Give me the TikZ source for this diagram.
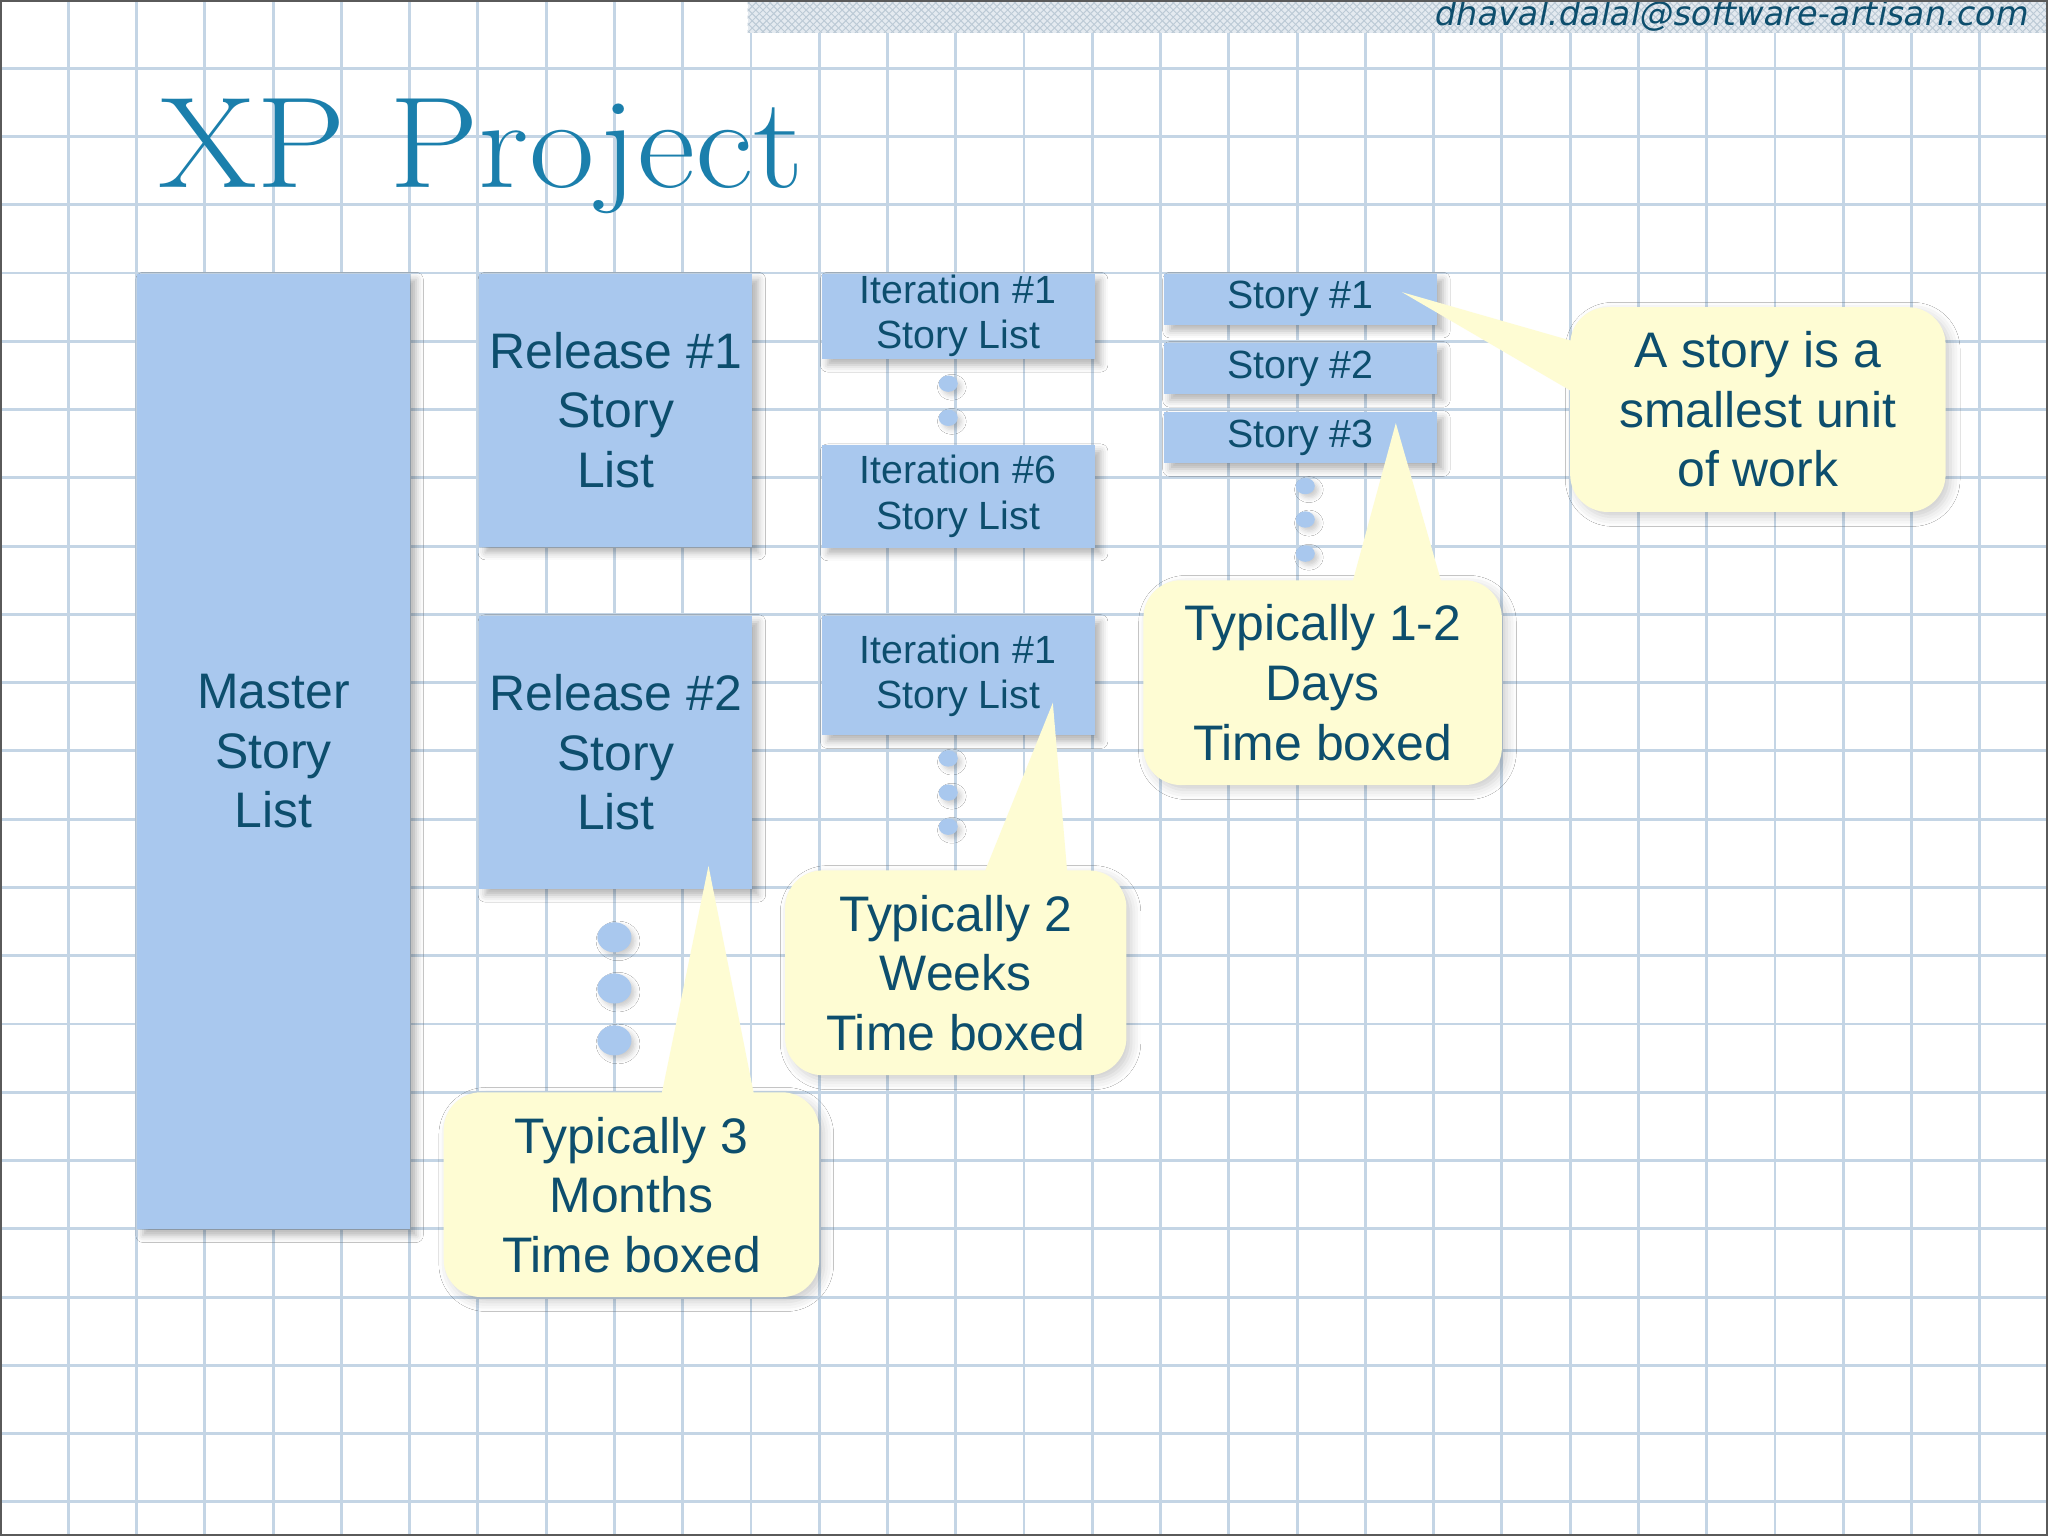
\documentclass[tikz,border=0pt]{standalone}
\usepackage{fontspec}
\setsansfont{Liberation Sans}
\newfontfamily\mailfont[FakeSlant=0.2]{DejaVu Sans}
\usepackage{xcolor}
\usepackage{tikz}
\usetikzlibrary{
  calc,
  patterns,
  positioning,
  shadows.blur
}
\definecolor{gridBlue}{HTML}{C4D5E5}
\definecolor{boxBlue}{HTML}{A9C8EE}
\definecolor{inkTeal}{HTML}{0D4E6D}
\definecolor{titleTeal}{HTML}{1B7FAC}
\definecolor{noteYellow}{HTML}{FEFCD3}
\definecolor{frameGray}{HTML}{5A5A5A}
\definecolor{bandGray}{HTML}{E4EAF0}
\definecolor{bandLine}{HTML}{BCCAD6}

\begin{document}
\begin{tikzpicture}[
  font=\sffamily,
  gridline/.style={draw=gridBlue, line width=1.2pt},
  bigtext/.style={font=\sffamily\fontsize{20.8}{24.8}\selectfont},
  smalltext/.style={font=\sffamily\fontsize{16.4}{18.8}\selectfont},
  listbox/.style={
    fill=boxBlue,
    text=inkTeal,
    align=center,
    inner sep=0pt,
    minimum width=4cm,
    blur shadow={shadow xshift=2.5pt, shadow yshift=-2.5pt,
      shadow blur radius=3pt, shadow opacity=30}
  },
  callout/.style={
    bigtext,
    fill=noteYellow,
    text=inkTeal,
    align=center,
    inner sep=0pt,
    minimum height=3cm,
    rounded corners=0.55cm,
    blur shadow={shadow xshift=2pt, shadow yshift=-2pt,
      shadow blur radius=4pt, shadow opacity=20}
  },
  tail/.style={fill=noteYellow},
  dotfill/.style={fill=boxBlue,
    blur shadow={shadow xshift=1.5pt, shadow yshift=-1.5pt,
      shadow blur radius=2pt, shadow opacity=20}}
]
\useasboundingbox (0,0) rectangle (30,-22.5);
\fill[white] (0,0) rectangle (30,-22.5);

% squared paper
\foreach \x in {1,...,29}
  \draw[gridline] (\x,0) -- (\x,-22.5);
\foreach \y in {1,...,22}
  \draw[gridline] (0,-\y) -- (30,-\y);

% header band
\fill[bandGray] (10.95,0) rectangle (30,-0.48);
\fill[pattern=north east lines, pattern color=bandLine] (10.95,0) rectangle (30,-0.48);
\fill[pattern=north west lines, pattern color=bandLine] (10.95,0) rectangle (30,-0.48);
\node[anchor=base east, text=inkTeal, inner sep=0pt,
  font=\mailfont\fontsize{14}{16}\selectfont] (mail) at (29.7,-0.38)
  {dhaval.dalal@software-artisan.com};

\node[anchor=base west, text=titleTeal, inner sep=0pt,
  font=\rmfamily\fontsize{54}{60}\selectfont] (title) at (2.31,-2.74)
  {\scalebox{1.1}[1]{XP Project}};

% story lists
\node[listbox, bigtext, minimum height=14cm, anchor=north west] (master) at (2,-4)
  {Master\\Story\\List};
\node[listbox, bigtext, minimum height=4cm, below right=0cm and 1cm of master.north east] (rel1)
  {Release \#1\\Story\\List};
\node[listbox, bigtext, minimum height=4cm, below=1cm of rel1] (rel2)
  {Release \#2\\Story\\List};

\node[listbox, smalltext, minimum height=1.25cm, below right=0cm and 1cm of rel1.north east] (iterA)
  {Iteration \#1\\Story List};
\node[listbox, smalltext, minimum height=1.5cm, below=1.25cm of iterA] (iterF)
  {Iteration \#6\\Story List};
\node[listbox, smalltext, minimum height=1.75cm, below right=0cm and 1cm of rel2.north east] (iterB)
  {Iteration \#1\\Story List};

\node[listbox, smalltext, minimum height=0.75cm, below right=0cm and 1cm of iterA.north east] (story1)
  {Story \#1};
\node[listbox, smalltext, minimum height=0.75cm, below=0.25cm of story1] (story2) {Story \#2};
\node[listbox, smalltext, minimum height=0.75cm, below=0.25cm of story2] (story3) {Story \#3};

% continuation dots
\foreach \y in {13.73,14.48,15.24}
  \fill[dotfill] (9,-\y) ellipse (0.25 and 0.22);
\foreach \y in {5.62,6.12}
  \fill[dotfill] (13.89,-\y) ellipse (0.14 and 0.12);
\foreach \y in {11.11,11.61,12.11}
  \fill[dotfill] (13.89,-\y) ellipse (0.14 and 0.12);
\foreach \y in {7.12,7.61,8.11}
  \fill[dotfill] (19.12,-\y) ellipse (0.14 and 0.12);

% callouts
\node[callout, minimum width=5.5cm] (noteStory) at (25.75,-6) {A story is a\\smallest unit\\of work};
\node[callout, minimum width=5.25cm] (noteDays) at (19.375,-10) {Typically 1-2\\Days\\Time boxed};
\node[callout, minimum width=5cm] (noteWeeks) at (14,-14.25) {Typically 2\\Weeks\\Time boxed};
\node[callout, minimum width=5.5cm] (noteMonths) at (9.25,-17.5) {Typically 3\\Months\\Time boxed};

\coordinate (tipStory) at ($(story1.north east)+(-0.52,-0.28)$);
\coordinate (tipDays) at ($(story3.north east)+(-0.61,-0.17)$);
\coordinate (tipWeeks) at ($(iterB.north east)+(-0.62,-1.28)$);
\coordinate (tipMonths) at ($(rel2.north east)+(-0.65,-3.67)$);

\fill[tail] ($(noteStory.north west)+(0.03,-0.5)$) -- (tipStory)
  -- ($(noteStory.north west)+(0.03,-1.24)$) -- cycle;
\fill[tail] ($(noteDays.north west)+(3.07,-0.03)$) -- (tipDays)
  -- ($(noteDays.north west)+(4.37,-0.03)$) -- cycle;
\fill[tail] ($(noteWeeks.north west)+(2.93,-0.03)$) -- (tipWeeks)
  -- ($(noteWeeks.north west)+(4.14,-0.03)$) -- cycle;
\fill[tail] ($(noteMonths.north west)+(3.2,-0.03)$) -- (tipMonths)
  -- ($(noteMonths.north west)+(4.55,-0.03)$) -- cycle;

% frame
\draw[frameGray, line width=0.9pt] (0.016,-0.016) rectangle (29.984,-22.484);
\end{tikzpicture}
\end{document}
